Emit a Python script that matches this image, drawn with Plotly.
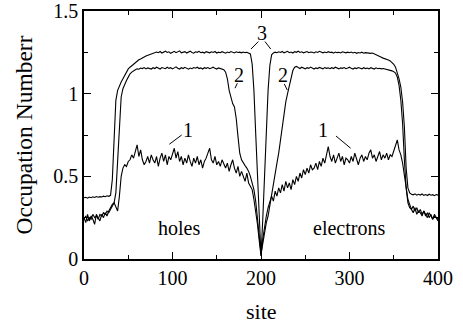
import plotly.graph_objects as go

sites = list(range(0, 401, 2))

occ_3 = [
    0.370, 0.373, 0.368, 0.375, 0.371, 0.376, 0.372, 0.378, 0.374, 0.377,
    0.375, 0.380, 0.377, 0.382, 0.379, 0.385, 0.48, 0.78, 0.96, 1.02,
    1.05, 1.07, 1.09, 1.11, 1.13, 1.15, 1.16, 1.17, 1.18, 1.19,
    1.20, 1.205, 1.21, 1.218, 1.222, 1.228, 1.232, 1.236, 1.238, 1.242,
    1.245, 1.252, 1.248, 1.255, 1.246, 1.251, 1.257, 1.249, 1.253, 1.244,
    1.250, 1.256, 1.248, 1.252, 1.259, 1.247, 1.251, 1.254, 1.246, 1.250,
    1.257, 1.249, 1.245, 1.253, 1.250, 1.256, 1.248, 1.251, 1.246, 1.254,
    1.250, 1.247, 1.253, 1.249, 1.255, 1.246, 1.251, 1.248, 1.254, 1.250,
    1.245, 1.252, 1.248, 1.255, 1.250, 1.246, 1.253, 1.249, 1.251, 1.247,
    1.252, 1.248, 1.250, 1.246, 1.24, 1.18, 1.02, 0.76, 0.49, 0.22,
    0.02, 0.24, 0.50, 0.78, 1.02, 1.17, 1.235, 1.246, 1.251, 1.248,
    1.253, 1.249, 1.255, 1.247, 1.251, 1.256, 1.248, 1.252, 1.246, 1.254,
    1.250, 1.257, 1.249, 1.253, 1.247, 1.251, 1.255, 1.248, 1.252, 1.250,
    1.246, 1.253, 1.249, 1.256, 1.250, 1.247, 1.252, 1.248, 1.254, 1.249,
    1.251, 1.245, 1.252, 1.248, 1.250, 1.246, 1.253, 1.249, 1.247, 1.251,
    1.248, 1.252, 1.246, 1.250, 1.244, 1.249, 1.246, 1.251, 1.245, 1.248,
    1.246, 1.248, 1.244, 1.246, 1.240, 1.237, 1.232, 1.226, 1.220, 1.215,
    1.212, 1.208, 1.203, 1.198, 1.190, 1.178, 1.160, 1.130, 1.090, 1.040,
    0.95, 0.80, 0.55, 0.43, 0.40, 0.392, 0.388, 0.394, 0.386, 0.391,
    0.387, 0.393, 0.385, 0.390, 0.384, 0.392, 0.386, 0.389, 0.383, 0.390,
    0.386,
]

occ_2 = [
    0.24, 0.26, 0.23, 0.25, 0.24, 0.27, 0.25, 0.26, 0.24, 0.27,
    0.26, 0.28, 0.27, 0.29, 0.28, 0.30, 0.32, 0.34, 0.40, 0.62,
    0.85, 0.98, 1.03, 1.06, 1.08, 1.10, 1.12, 1.13, 1.14, 1.145,
    1.150, 1.148, 1.155, 1.152, 1.158, 1.150, 1.156, 1.153, 1.149, 1.157,
    1.152, 1.160, 1.154, 1.149, 1.158, 1.155, 1.151, 1.160, 1.153, 1.157,
    1.150, 1.156, 1.162, 1.154, 1.149, 1.157, 1.152, 1.159, 1.153, 1.148,
    1.155, 1.151, 1.158, 1.154, 1.160, 1.152, 1.156, 1.149, 1.157, 1.153,
    1.158, 1.151, 1.155, 1.160, 1.153, 1.149, 1.156, 1.152, 1.150, 1.145,
    1.13, 1.09, 1.02, 0.97, 0.94, 0.92, 0.85, 0.74, 0.64, 0.60,
    0.58, 0.565, 0.55, 0.53, 0.50, 0.46, 0.42, 0.35, 0.26, 0.14,
    0.03, 0.10, 0.17, 0.22, 0.26, 0.33, 0.40, 0.46, 0.52, 0.58,
    0.64, 0.72, 0.80, 0.88, 0.95, 1.00, 1.05, 1.10, 1.14, 1.16,
    1.165, 1.158, 1.152, 1.160, 1.155, 1.150, 1.157, 1.153, 1.161, 1.154,
    1.149, 1.156, 1.152, 1.159, 1.155, 1.150, 1.158, 1.153, 1.156, 1.151,
    1.157, 1.152, 1.160, 1.154, 1.150, 1.156, 1.153, 1.158, 1.151, 1.155,
    1.160, 1.153, 1.149, 1.156, 1.152, 1.158, 1.154, 1.150, 1.157, 1.152,
    1.155, 1.150, 1.157, 1.153, 1.149, 1.156, 1.151, 1.154, 1.150, 1.152,
    1.150, 1.147, 1.145, 1.142, 1.138, 1.133, 1.125, 1.100, 1.050, 0.960,
    0.82, 0.60, 0.43, 0.34, 0.31, 0.30, 0.28, 0.31, 0.27, 0.29,
    0.28, 0.26, 0.29, 0.27, 0.25, 0.28, 0.26, 0.24, 0.27, 0.25,
    0.24,
]

occ_1 = [
    0.25, 0.22, 0.27, 0.23, 0.26, 0.24, 0.21, 0.27, 0.25, 0.23,
    0.27, 0.25, 0.28, 0.26, 0.29, 0.31, 0.33, 0.34, 0.31, 0.29,
    0.38, 0.50, 0.55, 0.57, 0.56, 0.59, 0.60, 0.63, 0.61, 0.66,
    0.69, 0.62, 0.66, 0.60, 0.57, 0.59, 0.62, 0.58, 0.63, 0.60,
    0.58, 0.62, 0.56, 0.61, 0.64, 0.59, 0.63, 0.57, 0.62, 0.60,
    0.64, 0.67, 0.61, 0.65, 0.59, 0.62, 0.57, 0.61, 0.58, 0.63,
    0.59, 0.56, 0.61, 0.58, 0.62, 0.57, 0.60, 0.55, 0.59, 0.61,
    0.64, 0.67, 0.60, 0.58, 0.62, 0.57, 0.59, 0.56, 0.60, 0.57,
    0.55, 0.58, 0.53, 0.57, 0.60, 0.55, 0.52, 0.56, 0.50, 0.53,
    0.50, 0.47, 0.52, 0.46, 0.44, 0.42, 0.36, 0.29, 0.21, 0.11,
    0.02, 0.12, 0.20, 0.26, 0.31, 0.34, 0.38, 0.35, 0.41, 0.38,
    0.43, 0.40, 0.45, 0.41, 0.47, 0.43, 0.46, 0.42, 0.48, 0.45,
    0.50, 0.47, 0.52, 0.49, 0.54, 0.51, 0.55, 0.52, 0.57, 0.54,
    0.55, 0.58, 0.54, 0.59, 0.56, 0.61, 0.58, 0.63, 0.68, 0.62,
    0.59, 0.63, 0.58, 0.61, 0.64, 0.59, 0.62, 0.57, 0.61, 0.60,
    0.58, 0.62, 0.59, 0.64, 0.60, 0.57, 0.61, 0.63, 0.59, 0.62,
    0.60, 0.64, 0.66, 0.61, 0.63, 0.59, 0.62, 0.65, 0.60, 0.63,
    0.61, 0.64, 0.60, 0.63, 0.62, 0.65, 0.69, 0.72, 0.66, 0.63,
    0.58, 0.50, 0.42, 0.36, 0.33, 0.30, 0.32, 0.29, 0.31, 0.28,
    0.30, 0.27, 0.29, 0.26, 0.28, 0.25, 0.27, 0.24, 0.26, 0.25,
    0.23,
]

x_ticks = [0, 100, 200, 300, 400]
y_ticks = [0, 0.5, 1, 1.5]

FONT = "Liberation Serif"

fig = go.Figure()
for name, ys in [("1", occ_1), ("2", occ_2), ("3", occ_3)]:
    fig.add_trace(go.Scatter(x=sites, y=ys, mode="lines", name=name,
                             line=dict(color="black", width=1.1),
                             showlegend=False))

axis_common = dict(
    showline=True, linecolor="black", linewidth=1.5, mirror="allticks",
    ticks="inside", ticklen=7, tickwidth=1, tickcolor="black",
    showgrid=False, zeroline=False, automargin=False,
    tickfont=dict(family=FONT, size=20, color="black"),
)

fig.update_xaxes(range=[0, 400], tickvals=x_ticks, ticktext=[str(v) for v in x_ticks],
                 minor=dict(ticks="inside", ticklen=4, dtick=50, tick0=0, tickcolor="black", showgrid=False),
                 **axis_common)
fig.update_yaxes(range=[0, 1.5], tickvals=y_ticks, ticktext=["0", "0.5", "1", "1.5"],
                 minor=dict(ticks="inside", ticklen=4, dtick=0.25, tick0=0, tickcolor="black", showgrid=False),
                 title=dict(text="Occupation Numberr", font=dict(family=FONT, size=23.5, color="black"), standoff=14),
                 **axis_common)

# x-axis title as paper annotation, bottom of its box on the page edge
fig.add_annotation(x=0.5, y=-0.2645, xref="paper", yref="paper", text="site",
                   showarrow=False, xanchor="center", yanchor="bottom",
                   borderpad=0,
                   font=dict(family=FONT, size=22, color="black"))

labels = [
    ("1", 117.5, 0.78), ("1", 270.4, 0.78),
    ("2", 175.1, 1.113), ("2", 225.2, 1.113),
    ("3", 200.7, 1.365),
    ("holes", 107.5, 0.19), ("electrons", 299.4, 0.19),
]
for txt, lx, ly in labels:
    fig.add_annotation(x=lx, y=ly, text=txt, showarrow=False,
                       font=dict(family=FONT, size=20, color="black"))

pointers = [
    (110.4, 0.75, 96.4, 0.694), (284.7, 0.744, 301.3, 0.67),
    (173.3, 1.063, 170.6, 1.033), (226.3, 1.059, 229.7, 1.022),
    (197.0, 1.315, 188.7, 1.27), (204.5, 1.315, 211.0, 1.27),
]
for x0, y0, x1, y1 in pointers:
    fig.add_shape(type="line", x0=x0, y0=y0, x1=x1, y1=y1, xref="x", yref="y",
                  line=dict(color="black", width=1))

fig.update_layout(
    width=463, height=325,
    margin=dict(l=84, r=25, t=11, b=66),
    plot_bgcolor="white", paper_bgcolor="white",
    font=dict(family=FONT, color="black"),
)

fig.write_html("out.html")
